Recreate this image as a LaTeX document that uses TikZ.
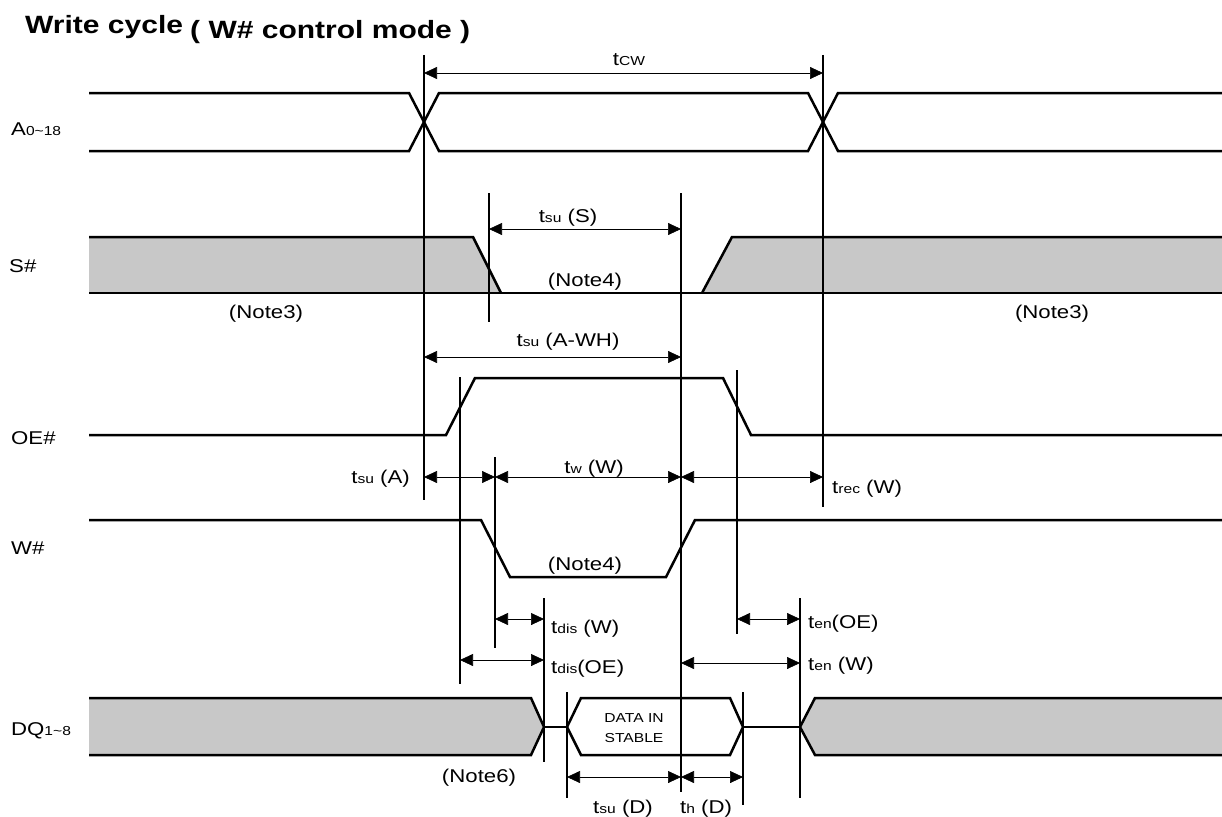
\documentclass[tikz,border=0pt]{standalone}
\usepackage{fontspec}
\setmainfont{Liberation Sans}[FakeStretch=1.2]
\usepackage{xcolor}
\usepackage{tikz}
\usetikzlibrary{arrows.meta}
\definecolor{busgray}{RGB}{200,200,200}
\newcommand{\lbl}{\fontsize{18.5}{21}\selectfont}
\newcommand{\sm}[1]{{\fontsize{13}{14}\selectfont #1}}

\begin{document}
\begin{tikzpicture}[x=1pt,y=-1pt,
  sig/.style={line width=2.5pt},
  guide/.style={line width=1.6pt},
  dim/.style={line width=0.7pt,{Triangle[length=13pt,width=12pt]}-{Triangle[length=13pt,width=12pt]}},
  lab/.style={inner sep=0pt,font=\lbl}]
\useasboundingbox (0,0) rectangle (1222,816);
% title
\node[anchor=base west,inner sep=0pt,font=\bfseries\fontsize{25}{28}\selectfont] (title1) at (25,34) {Write cycle};
\node[anchor=base west,inner sep=0pt,font=\bfseries\fontsize{25}{28}\selectfont] (title2) at (190,39) {( W\# control mode )};
% signal names
\node[lab,anchor=base west] (nA) at (11,135) {A\sm{0\textasciitilde18}};
\node[lab,anchor=base west] (nS) at (9,272) {S\#};
\node[lab,anchor=base west] (nOE) at (11,444) {OE\#};
\node[lab,anchor=base west] (nW) at (11,554) {W\#};
\node[lab,anchor=base west] (nDQ) at (11,735) {DQ\sm{1\textasciitilde8}};
% gray bus areas
\fill[busgray] (89,237) -- (473,237) -- (501,293) -- (89,293) -- cycle;
\fill[busgray] (702,293) -- (732,237) -- (1222,237) -- (1222,293) -- cycle;
\fill[busgray] (89,698) -- (531,698) -- (544,727) -- (531,755) -- (89,755) -- cycle;
\fill[busgray] (1222,698) -- (815,698) -- (800,727) -- (815,755) -- (1222,755) -- cycle;
% guide lines
\coordinate (g1t) at (424,55);  \coordinate (g1b) at (424,500);
\coordinate (g2t) at (823,55);  \coordinate (g2b) at (823,507);
\coordinate (gSt) at (489,193); \coordinate (gSb) at (489,322);
\coordinate (gMt) at (681,193); \coordinate (gMb) at (681,792);
\coordinate (gO1t) at (460,377); \coordinate (gO1b) at (460,684);
\coordinate (gW1t) at (495,457); \coordinate (gW1b) at (495,648);
\coordinate (gO2t) at (737,370); \coordinate (gO2b) at (737,634);
\coordinate (gD1t) at (544,598); \coordinate (gD1b) at (544,762);
\coordinate (gD2t) at (567,692); \coordinate (gD2b) at (567,798);
\coordinate (gD3t) at (743,692); \coordinate (gD3b) at (743,805);
\coordinate (gEt) at (800,598); \coordinate (gEb) at (800,798);
\foreach \g in {g1,g2,gS,gM,gO1,gW1,gO2,gD1,gD2,gD3,gE}
  \draw[guide] (\g t) -- (\g b);
% A0~18
\draw[sig] (89,93) -- (409,93) -- (439,151) -- (808,151) -- (838,93) -- (1222,93);
\draw[sig] (89,151) -- (409,151) -- (439,93) -- (808,93) -- (838,151) -- (1222,151);
% S#
\draw[sig] (89,237) -- (473,237) -- (501,293);
\draw[sig] (89,293) -- (1222,293);
\draw[sig] (702,293) -- (732,237) -- (1222,237);
% OE#
\draw[sig] (89,435) -- (446,435) -- (475,378) -- (723,378) -- (751,435) -- (1222,435);
% W#
\draw[sig] (89,520) -- (481,520) -- (510,577) -- (666,577) -- (695,520) -- (1222,520);
% DQ1~8
\draw[sig] (89,698) -- (531,698) -- (544,727) -- (531,755) -- (89,755);
\draw[sig] (544,727) -- (567,727);
\draw[sig] (567,727) -- (581,698) -- (730,698) -- (743,727) -- (730,755) -- (581,755) -- cycle;
\draw[sig] (743,727) -- (800,727);
\draw[sig] (1222,698) -- (815,698) -- (800,727) -- (815,755) -- (1222,755);
\node[inner sep=0pt,font=\fontsize{13}{14}\selectfont,anchor=base] (din) at (634,722) {DATA IN};
\node[inner sep=0pt,font=\fontsize{13}{14}\selectfont,anchor=base] (dst) at (634,742) {STABLE};
% timing arrows
\draw[dim] (g1t |- 0,73) -- (g2t |- 0,73);
\draw[dim] (gSt |- 0,229) -- (gMt |- 0,229);
\draw[dim] (g1t |- 0,357) -- (gMt |- 0,357);
\draw[dim] (g1t |- 0,477) -- (gW1t |- 0,477);
\draw[dim] (gW1t |- 0,477) -- (gMt |- 0,477);
\draw[dim] (gMt |- 0,477) -- (g2t |- 0,477);
\draw[dim] (gW1t |- 0,619) -- (gD1t |- 0,619);
\draw[dim] (gO1t |- 0,660) -- (gD1t |- 0,660);
\draw[dim] (gO2t |- 0,619) -- (gEt |- 0,619);
\draw[dim] (gMt |- 0,663) -- (gEt |- 0,663);
\draw[dim] (gD2t |- 0,777) -- (gMt |- 0,777);
\draw[dim] (gMt |- 0,777) -- (gD3t |- 0,777);
% timing labels
\node[lab,anchor=base] (tcw) at (629,66) {t\sm{CW}};
\node[lab,anchor=base] (tsuS) at (568,222) {t\sm{su} (S)};
\node[lab,anchor=base,fill=white,inner xsep=2pt,inner ysep=1pt] (noteS) at (585,286) {(Note4)};
\node[lab,anchor=base] (note3a) at (266,318) {(Note3)};
\node[lab,anchor=base] (note3b) at (1052,318) {(Note3)};
\node[lab,anchor=base] (tsuAWH) at (568,346) {t\sm{su} (A-WH)};
\node[lab,anchor=base east] (tsuA) at (410,483) {t\sm{su} (A)};
\node[lab,anchor=base] (twW) at (594,473) {t\sm{w} (W)};
\node[lab,anchor=base west] (trecW) at (832,493) {t\sm{rec} (W)};
\node[lab,anchor=base] (noteW) at (585,570) {(Note4)};
\node[lab,anchor=base west] (tdisW) at (551,633) {t\sm{dis} (W)};
\node[lab,anchor=base west] (tdisOE) at (551,673) {t\sm{dis}(OE)};
\node[lab,anchor=base west] (tenOE) at (808,628) {t\sm{en}(OE)};
\node[lab,anchor=base west] (tenW) at (808,670) {t\sm{en} (W)};
\node[lab,anchor=base] (note6) at (479,782) {(Note6)};
\node[lab,anchor=base] (tsuD) at (623,813) {t\sm{su} (D)};
\node[lab,anchor=base] (thD) at (706,813) {t\sm{h} (D)};
\end{tikzpicture}
\end{document}
